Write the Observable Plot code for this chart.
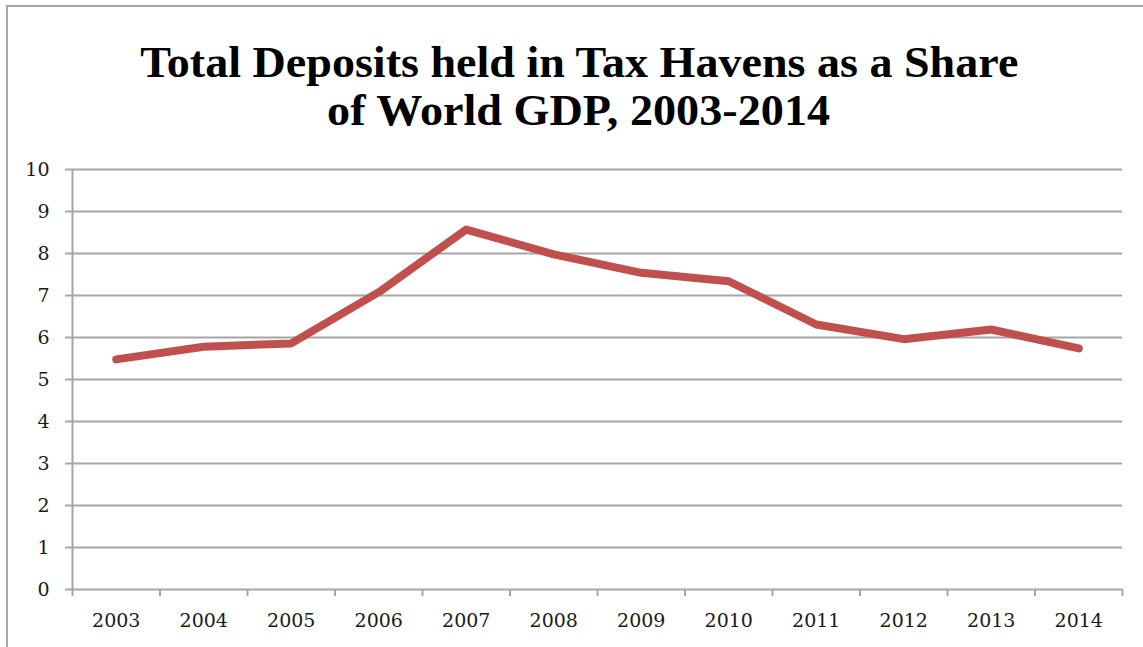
<!DOCTYPE html>
<html>
<head>
<meta charset="utf-8">
<script src="https://cdn.jsdelivr.net/npm/d3@7"></script>
<script src="https://cdn.jsdelivr.net/npm/@observablehq/plot@0.6"></script>
<style>
  html, body { margin: 0; padding: 0; background: #fff; width: 1143px; height: 647px; overflow: hidden; }
  #frame { position: absolute; left: 6px; top: 5px; width: 1300px; height: 800px; border: 2px solid #a6a6a6; box-sizing: border-box; }
  #title { position: absolute; left: 0; top: 39px; width: 1158px; text-align: center;
    font-family: "Liberation Serif", serif; font-weight: bold; font-size: 44px; line-height: 48px; color: #000; }
  #title span { display: inline-block; white-space: nowrap; transform-origin: center; }
  #chart { position: absolute; left: 0; top: 140px; }
</style>
</head>
<body>
<div id="frame"></div>
<div id="title"><span id="t1">Total Deposits held in Tax Havens as a Share</span><br><span id="t2">of World GDP, 2003-2014</span></div>
<div id="chart"></div>
<script>
const years = [2003, 2004, 2005, 2006, 2007, 2008, 2009, 2010, 2011, 2012, 2013, 2014];
const share = [5.48, 5.78, 5.86, 7.08, 8.57, 7.98, 7.54, 7.34, 6.31, 5.96, 6.19, 5.74];
const yTicks = [0, 1, 2, 3, 4, 5, 6, 7, 8, 9, 10];

const data = years.map((year, i) => ({year, share: share[i]}));
const bounds = years.map(y => y - 0.5).concat([years[years.length - 1] + 0.5]);
const grid = "#a6a6a6";

const chart = Plot.plot({
  width: 1143,
  height: 507,
  marginLeft: 72,
  marginRight: 21,
  marginTop: 29,
  marginBottom: 58,
  x: {domain: [bounds[0], bounds[bounds.length - 1]]},
  y: {domain: [0, 10]},
  style: {fontFamily: "'DejaVu Serif', serif", fontSize: "19px", color: "#1a1a1a", background: "transparent", overflow: "visible"},
  marks: [
    Plot.ruleY(yTicks.slice(1), {stroke: grid, strokeWidth: 2}),
    Plot.ruleY([0], {stroke: grid, strokeWidth: 2}),
    Plot.ruleX([bounds[0]], {stroke: grid, strokeWidth: 2}),
    Plot.axisY({ticks: yTicks, tickSize: 7, tickPadding: 16, stroke: grid, strokeWidth: 2, label: null, tickFormat: d => String(d)}),
    Plot.axisX({ticks: bounds, tickSize: 7, tickFormat: () => "", stroke: grid, strokeWidth: 2, label: null}),
    Plot.axisX({ticks: years, tickSize: 0, tickPadding: 24, tickFormat: d => String(d), label: null}),
    Plot.line(data, {x: "year", y: "share", stroke: "#c0504d", strokeWidth: 8, strokeLinecap: "round", strokeLinejoin: "round"})
  ]
});
document.getElementById("chart").appendChild(chart);

// fit the title lines to the reference widths
function fit(id, target) {
  const el = document.getElementById(id);
  const w = el.getBoundingClientRect().width;
  if (w > 0) el.style.transform = `scaleX(${target / w})`;
}
fit("t1", 878);
fit("t2", 503);
</script>
</body>
</html>
